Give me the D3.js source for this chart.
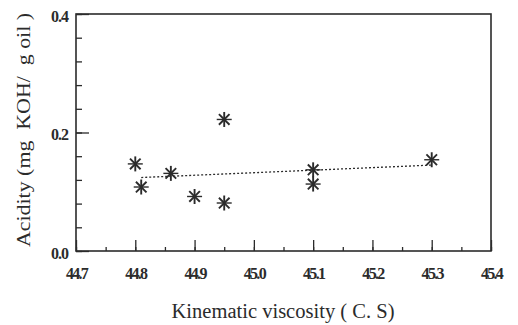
<!DOCTYPE html>
<html>
<head>
<meta charset="utf-8">
<script src="https://cdn.jsdelivr.net/npm/d3@7"></script>
<style>
body { margin: 0; background: #fff; }
svg text { fill: #2b2b2b; }
</style>
</head>
<body>
<div id="chart"></div>
<script>
const width = 518;
const height = 325;

// measured points (viscosity, acidity)
const viscosity = [44.80, 44.81, 44.86, 44.90, 44.95, 44.95, 45.10, 45.10, 45.30];
const acidity = [0.147, 0.108, 0.131, 0.092, 0.081, 0.222, 0.137, 0.113, 0.154];

// fitted trend line ends
const trendX = [44.81, 45.30];
const trendY = [0.124, 0.145];

const xTicks = [44.7, 44.8, 44.9, 45.0, 45.1, 45.2, 45.3, 45.4];
const yTicks = [0.0, 0.2, 0.4];

const margin = {top: 14, right: 27, bottom: 74, left: 76};
const ink = "#2b2b2b";

const x = d3.scaleLinear().domain([44.7, 45.4]).range([margin.left, width - margin.right]);
const y = d3.scaleLinear().domain([0, 0.4]).range([height - margin.bottom, margin.top]);

const svg = d3.select("#chart")
	.append("svg")
	.attr("width", width)
	.attr("height", height);

// frame
svg.append("rect")
	.attr("x", x(44.7))
	.attr("y", y(0.4))
	.attr("width", x(45.4) - x(44.7))
	.attr("height", y(0) - y(0.4))
	.attr("fill", "none")
	.attr("stroke", ink)
	.attr("stroke-width", 1.6);

// x ticks, pointing up into the plot
const xMinor = d3.range(0, 15).map((i) => 44.7 + i * 0.05);
svg.append("g")
	.attr("transform", "translate(0," + y(0) + ")")
	.call(d3.axisBottom(x).tickValues(xMinor).tickSize(-4).tickFormat(""))
	.call((g) => g.select(".domain").remove())
	.selectAll("line").attr("stroke", ink).attr("stroke-width", 1.3);

const xAxis = svg.append("g")
	.attr("transform", "translate(0," + y(0) + ")")
	.call(d3.axisBottom(x).tickValues(xTicks).tickSize(-11).tickPadding(17).tickFormat(d3.format(".1f")));
xAxis.select(".domain").remove();
xAxis.selectAll("line").attr("stroke", ink).attr("stroke-width", 1.3);
xAxis.selectAll("text")
	.attr("fill", ink)
	.style("font-family", "'Liberation Serif', serif")
	.style("font-weight", "bold")
	.style("font-size", "16px")
	.style("letter-spacing", "-1.7px");

// y ticks, pointing right into the plot
const yMinor = d3.range(0, 11).map((i) => i * 0.04);
svg.append("g")
	.attr("transform", "translate(" + x(44.7) + ",0)")
	.call(d3.axisLeft(y).tickValues(yMinor).tickSize(-6).tickFormat(""))
	.call((g) => g.select(".domain").remove())
	.selectAll("line").attr("stroke", ink).attr("stroke-width", 1.3);

const yAxis = svg.append("g")
	.attr("transform", "translate(" + x(44.7) + ",0)")
	.call(d3.axisLeft(y).tickValues(yTicks).tickSize(-13).tickPadding(8).tickFormat(d3.format(".1f")));
yAxis.select(".domain").remove();
yAxis.selectAll("line").attr("stroke", ink).attr("stroke-width", 1.3);
yAxis.selectAll("text")
	.attr("fill", ink)
	.attr("dy", "0.45em")
	.style("font-family", "'Liberation Serif', serif")
	.style("font-weight", "bold")
	.style("font-size", "16px")
	.style("letter-spacing", "-1px");

// trend line
svg.append("path")
	.datum(d3.zip(trendX, trendY))
	.attr("d", d3.line().x((d) => x(d[0])).y((d) => y(d[1])))
	.attr("fill", "none")
	.attr("stroke", ink)
	.attr("stroke-width", 1.3)
	.attr("stroke-dasharray", "2,2");

// asterisk markers
const r = 7.5;
const arms = [0, 45, 90, 135];
const pts = svg.append("g")
	.selectAll("g")
	.data(d3.zip(viscosity, acidity))
	.enter()
	.append("g")
	.attr("transform", (d) => "translate(" + x(d[0]) + "," + y(d[1]) + ")");

arms.forEach((a) => {
	const rad = a * Math.PI / 180;
	pts.append("line")
		.attr("x1", -r * Math.cos(rad))
		.attr("y1", -r * Math.sin(rad))
		.attr("x2", r * Math.cos(rad))
		.attr("y2", r * Math.sin(rad))
		.attr("stroke", ink)
		.attr("stroke-width", a == 0 ? 1.4 : 1.9);
});

// axis titles
svg.append("text")
	.attr("x", 283)
	.attr("y", 318)
	.attr("text-anchor", "middle")
	.attr("textLength", 223)
	.attr("lengthAdjust", "spacingAndGlyphs")
	.style("font-family", "'Liberation Serif', serif")
	.style("font-size", "20px")
	.text("Kinematic viscosity ( C. S)");

svg.append("text")
	.attr("transform", "translate(30,130) rotate(-90)")
	.attr("text-anchor", "middle")
	.attr("textLength", 234)
	.attr("lengthAdjust", "spacingAndGlyphs")
	.style("font-family", "'Liberation Serif', serif")
	.style("font-size", "19px")
	.style("white-space", "pre")
	.text("Acidity (mg  KOH/  g oil )");
</script>
</body>
</html>
